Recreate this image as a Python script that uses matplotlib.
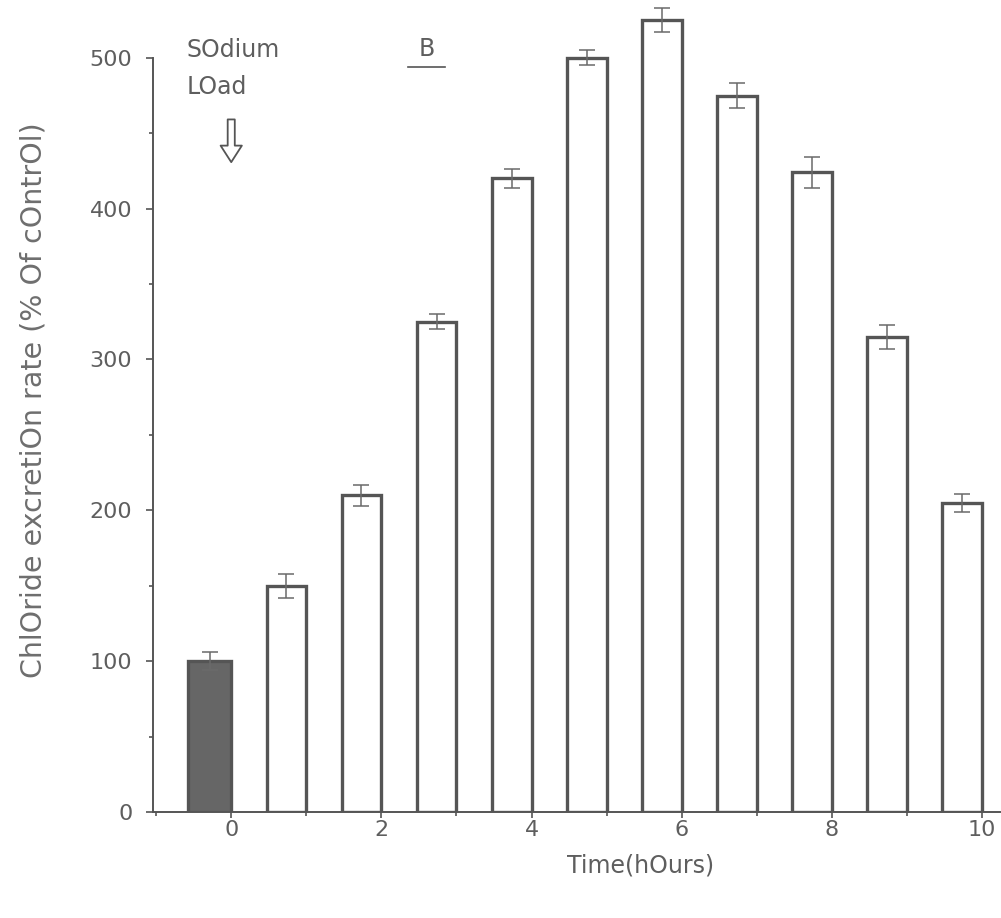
import numpy as np
import matplotlib
matplotlib.use("Agg")
import matplotlib.pyplot as plt
from matplotlib.ticker import MultipleLocator

# chloride excretion after sodium load, % of control
hours = np.arange(0, 11)
rate = [100, 150, 210, 325, 420, 500, 525, 475, 424, 315, 205]
err = [6, 8, 7, 5, 6, 5, 8, 8, 10, 8, 6]
xticks = [0, 2, 4, 6, 8, 10]
yticks = [0, 100, 200, 300, 400, 500]

ink = "#555555"
txt = "#5e5e5e"
plt.rcParams['font.family'] = ['DejaVu Sans']

fig = plt.figure(figsize=(10.01, 9.18), dpi=100)
ax = fig.add_axes([0.153, 0.1155, 0.846, 0.879])

bw = 0.53
# bars end at each hour mark
colors = ["#666666"] + ["white"] * (len(hours) - 1)
widths = [-0.57] + [-bw] * (len(hours) - 1)
ax.bar(hours, rate, width=widths, align="edge", color=colors,
       edgecolor=ink, linewidth=2.4)
centers = hours + np.array(widths) / 2
ax.errorbar(centers, rate, yerr=err, fmt="none", ecolor="#6a6a6a",
            elinewidth=1.1, capsize=6, capthick=1.1)

ax.set_xlim(-1.04, 10.24)
ax.set_ylim(0, 535)
ax.set_xticks(xticks)
ax.set_yticks(yticks)
ax.xaxis.set_minor_locator(MultipleLocator(1))
ax.yaxis.set_minor_locator(MultipleLocator(50))
ax.tick_params(axis="both", which="both", direction="out", colors=ink,
               labelcolor=txt, labelsize=16, width=1.2)
ax.tick_params(axis="x", which="major", length=4, pad=2)
ax.tick_params(axis="x", which="minor", length=3)
ax.tick_params(axis="y", which="major", length=5, pad=10)
ax.tick_params(axis="y", which="minor", length=3)

for s in ["top", "right"]:
    ax.spines[s].set_visible(False)
ax.spines["left"].set_bounds(0, 500)
ax.spines["left"].set_color(ink)
ax.spines["bottom"].set_color(ink)
ax.spines["left"].set_linewidth(1.4)
ax.spines["bottom"].set_linewidth(1.4)

ax.set_ylabel("ChlOride excretiOn rate (% Of cOntrOl)", fontsize=20.5, color="#6e6e6e")
ax.yaxis.set_label_coords(-0.125, 0.51)
ax.set_xlabel("Time(hOurs)", fontsize=17, color=txt)
ax.xaxis.set_label_coords(0.576, -0.052)

# annotations
ax.text(-0.6, 513, "SOdium\nLOad", fontsize=17, color=txt, ha="left", va="top",
        linespacing=1.65)
ax.annotate("", xy=(0.0, 429), xytext=(0.0, 461),
            arrowprops=dict(arrowstyle="simple,head_length=0.7,head_width=0.9,tail_width=0.3",
                            mutation_scale=17, fc="white", ec=ink, lw=1.3))
ax.text(2.6, 506, "B", fontsize=17, color=txt, ha="center", va="center")
ax.plot([2.35, 2.85], [494, 494], color=ink, lw=1.2)

fig.savefig("out.png", dpi=100)
